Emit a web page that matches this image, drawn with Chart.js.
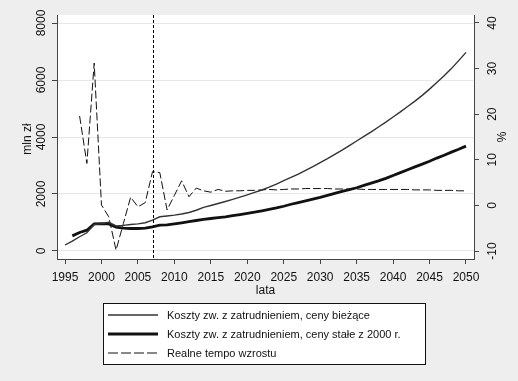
<!DOCTYPE html>
<html>
<head>
<meta charset="utf-8">
<script src="https://cdn.jsdelivr.net/npm/chart.js@4.4.1/dist/chart.umd.min.js"></script>
<style>
    body { margin: 0; background: #eeeeee; }
    #chart { display: block; }
</style>
</head>
<body>
<canvas id="chart" width="518" height="381"></canvas>
<script>
// Years on the x axis
const years = [
    1995, 1996, 1997, 1998, 1999, 2000, 2001, 2002, 2003, 2004,
    2005, 2006, 2007, 2008, 2009, 2010, 2011, 2012, 2013, 2014,
    2015, 2016, 2017, 2018, 2019, 2020, 2021, 2022, 2023, 2024,
    2025, 2026, 2027, 2028, 2029, 2030, 2031, 2032, 2033, 2034,
    2035, 2036, 2037, 2038, 2039, 2040, 2041, 2042, 2043, 2044,
    2045, 2046, 2047, 2048, 2049, 2050
];

// Costs, current prices (mln zł)
const costsCurrent = [
    210, 350, 500, 640, 930, 960, 1005, 880, 900, 930,
    950, 990, 1080, 1200, 1230, 1260, 1300, 1350, 1430, 1530,
    1595, 1665, 1735, 1810, 1890, 1970, 2055, 2140, 2240, 2350,
    2470, 2580, 2700, 2830, 2960, 3100, 3240, 3390, 3540, 3700,
    3860, 4020, 4180, 4350, 4520, 4700, 4880, 5070, 5260, 5460,
    5680, 5910, 6150, 6400, 6680, 6970
];

// Costs, constant 2000 prices (mln zł)
const costsConstant = [
    null, 530, 650, 730, 950, 960, 950, 840, 800, 790,
    790, 800, 850, 910, 915, 950, 990, 1030, 1070, 1110,
    1140, 1170, 1200, 1240, 1280, 1320, 1360, 1410, 1460, 1510,
    1570, 1640, 1700, 1760, 1820, 1880, 1950, 2020, 2090, 2150,
    2220, 2300, 2380, 2460, 2550, 2650, 2750, 2850, 2950, 3050,
    3150, 3260, 3360, 3470, 3570, 3680
];

// Real growth rate (%)
const growthRate = [
    null, null, 19.6, 9.2, 31.2, 0.1, -2.5, -9.8, -4.0, 1.8,
    -0.3, 0.6, 7.4, 7.2, -1.0, 2.2, 5.4, 1.9, 3.8, 3.2,
    2.9, 3.5, 3.1, 3.2, 3.2, 3.3, 3.3, 3.4, 3.5, 3.4,
    3.5, 3.6, 3.6, 3.7, 3.7, 3.7, 3.7, 3.6, 3.6, 3.6,
    3.6, 3.5, 3.5, 3.5, 3.5, 3.5, 3.5, 3.5, 3.4, 3.4,
    3.4, 3.3, 3.3, 3.3, 3.2, 3.2
];

// Tick labels
const xTicks = [1995, 2000, 2005, 2010, 2015, 2020, 2025, 2030, 2035, 2040, 2045, 2050];
const yLeftTicks = [0, 2000, 4000, 6000, 8000];
const yRightTicks = [-10, 0, 10, 20, 30, 40];
const markerYear = 2007;

const legendLabels = [
    'Koszty zw. z zatrudnieniem, ceny bieżące',
    'Koszty zw. z zatrudnieniem, ceny stałe z 2000 r.',
    'Realne tempo wzrostu'
];

const FONT = 'Liberation Sans, Arial, sans-serif';
const AXIS_COLOR = '#444';

function toPoints(values) {
    return years.map((yr, i) => ({ x: yr, y: values[i] }));
}

// Background, rotated y tick labels, titles, marker line and legend
const stataLook = {
    id: 'stataLook',
    beforeDraw(chart) {
        const { ctx, chartArea: a } = chart;
        ctx.save();
        ctx.fillStyle = '#eeeeee';
        ctx.fillRect(0, 0, chart.width, chart.height);
        ctx.fillStyle = '#ffffff';
        ctx.fillRect(a.left, a.top, a.right - a.left, a.bottom - a.top);
        ctx.restore();
    },
    afterDatasetsDraw(chart) {
        const { ctx, chartArea: a, scales } = chart;
        // vertical marker line
        const mx = Math.round(scales.x.getPixelForValue(markerYear)) + 0.5;
        ctx.save();
        ctx.strokeStyle = '#000';
        ctx.lineWidth = 1;
        ctx.setLineDash([3, 2]);
        ctx.beginPath();
        ctx.moveTo(mx, a.top);
        ctx.lineTo(mx, a.bottom);
        ctx.stroke();
        ctx.restore();
    },
    afterDraw(chart) {
        const { ctx, chartArea: a, scales } = chart;
        ctx.save();
        ctx.fillStyle = '#111';
        ctx.font = '12px ' + FONT;
        ctx.textAlign = 'center';
        ctx.textBaseline = 'middle';

        const rotText = (text, x, y) => {
            ctx.save();
            ctx.translate(x, y);
            ctx.rotate(-Math.PI / 2);
            ctx.fillText(text, 0, 0);
            ctx.restore();
        };

        yLeftTicks.forEach(v => rotText(String(v), 42, scales.y.getPixelForValue(v)));
        yRightTicks.forEach(v => rotText(String(v), 493, scales.y2.getPixelForValue(v)));
        const midY = (a.top + a.bottom) / 2;
        rotText('mln zł', 28, midY + 2);
        rotText('%', 503, midY);
        ctx.fillText('lata', (a.left + a.right) / 2, 291);

        // legend box
        ctx.fillStyle = '#ffffff';
        ctx.fillRect(103.5, 303.5, 322, 61);
        ctx.strokeStyle = '#111';
        ctx.lineWidth = 1;
        ctx.strokeRect(103.5, 303.5, 322, 61);

        const rows = [315, 334, 353];
        const styles = [
            { color: '#333', width: 1.4, dash: [] },
            { color: '#111', width: 2.8, dash: [] },
            { color: '#111', width: 1, dash: [10, 3] }
        ];
        ctx.font = '11px ' + FONT;
        ctx.textAlign = 'left';
        rows.forEach((ry, i) => {
            const s = styles[i];
            ctx.strokeStyle = s.color;
            ctx.lineWidth = s.width;
            ctx.setLineDash(s.dash);
            ctx.beginPath();
            ctx.moveTo(108, ry);
            ctx.lineTo(158, ry);
            ctx.stroke();
            ctx.setLineDash([]);
            ctx.fillStyle = '#111';
            ctx.fillText(legendLabels[i], 167, ry + 1);
        });
        ctx.restore();
    }
};

new Chart(document.getElementById('chart'), {
    type: 'line',
    data: {
        datasets: [
            {
                label: legendLabels[0],
                data: toPoints(costsCurrent),
                borderColor: '#333',
                borderWidth: 1.4,
                pointRadius: 0,
                tension: 0,
                yAxisID: 'y'
            },
            {
                label: legendLabels[1],
                data: toPoints(costsConstant),
                borderColor: '#111',
                borderWidth: 2.8,
                pointRadius: 0,
                tension: 0,
                yAxisID: 'y'
            },
            {
                label: legendLabels[2],
                data: toPoints(growthRate),
                borderColor: '#111',
                borderWidth: 1,
                borderDash: [8, 3],
                pointRadius: 0,
                tension: 0,
                yAxisID: 'y2'
            }
        ]
    },
    options: {
        responsive: false,
        animation: false,
        layout: { padding: { top: 15, bottom: 82, left: 0, right: 0 } },
        plugins: {
            legend: { display: false },
            tooltip: { enabled: false }
        },
        scales: {
            x: {
                type: 'linear',
                min: 1993.9,
                max: 2051.1,
                afterBuildTicks: s => { s.ticks = xTicks.map(v => ({ value: v })); },
                afterFit: s => { s.height = 40; },
                ticks: {
                    color: '#111',
                    font: { size: 12, family: FONT },
                    padding: 6,
                    maxRotation: 0,
                    callback: v => String(v)
                },
                grid: { drawOnChartArea: false, tickLength: 5, tickColor: AXIS_COLOR },
                border: { color: AXIS_COLOR }
            },
            y: {
                position: 'left',
                min: -281,
                max: 8281,
                afterBuildTicks: s => { s.ticks = yLeftTicks.map(v => ({ value: v })); },
                afterFit: s => { s.width = 57; },
                ticks: { display: false },
                grid: { color: '#e8e8e8', tickColor: AXIS_COLOR, tickLength: 5 },
                border: { color: AXIS_COLOR }
            },
            y2: {
                position: 'right',
                min: -11.75,
                max: 41.75,
                afterBuildTicks: s => { s.ticks = yRightTicks.map(v => ({ value: v })); },
                afterFit: s => { s.width = 44; },
                ticks: { display: false },
                grid: { drawOnChartArea: false, tickColor: AXIS_COLOR, tickLength: 5 },
                border: { color: AXIS_COLOR }
            }
        }
    },
    plugins: [stataLook]
});
</script>
</body>
</html>
